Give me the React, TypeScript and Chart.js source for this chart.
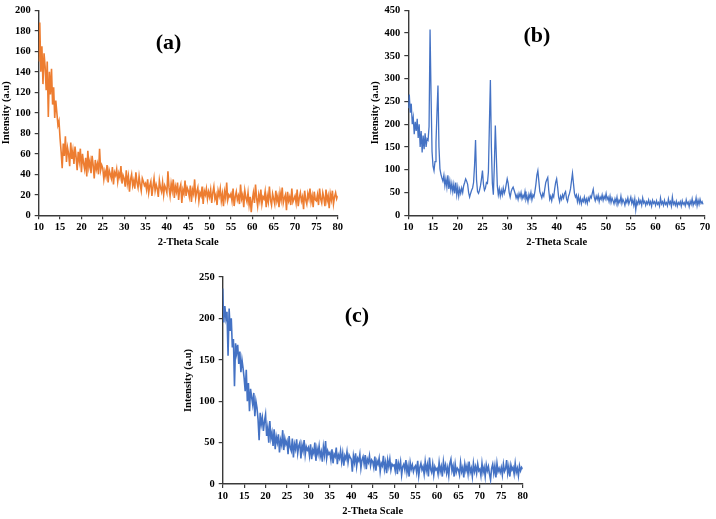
import React, { useEffect, useRef } from "react";
import { Chart, registerables } from "chart.js";

Chart.register(...registerables);

// ---------- data ----------
// (a) 2-theta grid: 10 .. 80, step 0.25
const thetaStartA = 10;
const thetaStepA = 0.25;
const intensityA = [
  150, 188, 140, 165, 128, 158, 145, 122, 150, 96, 140, 118, 143, 108, 125, 95, 112, 100, 88, 92,
  75, 62, 46, 70, 58, 77, 52, 66, 60, 48, 71, 55, 63, 50, 67, 57, 44, 62, 53, 65,
  42, 60, 51, 45, 56, 38, 63, 47, 53, 41, 58, 49, 36, 54, 45, 50, 40, 65, 44, 49,
  46, 35, 43, 38, 49, 32, 44, 40, 36, 47, 30, 42, 39, 45, 33, 41, 37, 48, 31, 39,
  36, 28, 44, 31, 38, 23, 35, 40, 29, 34, 26, 42, 32, 27, 38, 30, 24, 36, 33, 29,
  31, 25, 35, 22, 29, 33, 19, 28, 36, 24, 30, 26, 18, 34, 27, 23, 32, 20, 29, 26,
  22, 43, 27, 19, 31, 24, 35, 17, 28, 23, 32, 15, 26, 30, 12, 25, 21, 34, 19, 27,
  24, 18, 29, 13, 25, 21, 35, 17, 23, 27, 14, 22, 19, 28, 11, 24, 20, 26, 16, 23,
  18, 25, 12, 22, 28, 16, 20, 10, 24, 19, 26, 14, 21, 9, 23, 17, 32, 15, 20, 18,
  21, 14, 26, 9, 18, 23, 15, 19, 11, 30, 16, 20, 8, 24, 17, 13, 22, 10, 18, 3,
  15, 22, 12, 30, 17, 9, 20, 14, 25, 11, 18, 16, 23, 8, 19, 13, 28, 15, 10, 21,
  16, 11, 24, 14, 19, 8, 22, 15, 27, 12, 17, 20, 5, 23, 14, 18, 10, 26, 13, 16,
  19, 12, 25, 9, 17, 22, 14, 18, 6, 24, 15, 11, 21, 16, 26, 13, 19, 8, 23, 15,
  14, 20, 10, 26, 16, 12, 22, 17, 9, 25, 14, 19, 7, 21, 15, 24, 11, 18, 22, 16,
  19,
];

// (b) 2-theta grid: 10 .. 69.6, step 0.2
const thetaStartB = 10;
const thetaStepB = 0.2;
const intensityB = [
  235, 265, 225, 245, 200, 215, 178, 205, 185, 212, 170, 200, 150, 185, 138, 175, 145, 180, 150, 168, 165, 195, 408, 265, 140,
  108, 98, 118, 160, 225, 285, 150, 102, 90, 82, 75, 88, 65, 80, 62, 88, 58, 75, 55, 70, 52, 68, 48, 72, 45,
  62, 42, 58, 48, 60, 50, 65, 72, 80, 75, 68, 50, 40, 48, 55, 60, 72, 110, 165, 78, 52, 48, 55, 65, 80,
  98, 68, 55, 60, 72, 70, 95, 200, 297, 150, 70, 45, 110, 197, 130, 65, 45, 58, 42, 55, 45, 60, 48, 55, 68,
  80, 70, 50, 40, 52, 58, 62, 55, 48, 38, 45, 35, 48, 40, 50, 36, 44, 38, 52, 35, 42, 30, 46, 38, 50,
  34, 45, 40, 52, 68, 88, 98, 75, 52, 45, 38, 48, 42, 58, 72, 78, 83, 55, 35, 42, 32, 45, 40, 58, 72,
  80, 62, 40, 30, 42, 35, 45, 38, 48, 52, 36, 30, 42, 48, 58, 75, 92, 70, 48, 40, 45, 30, 42, 28, 38,
  25, 35, 30, 40, 28, 36, 26, 38, 32, 42, 38, 48, 57, 40, 32, 42, 35, 44, 30, 40, 35, 45, 33, 42, 36,
  48, 35, 40, 30, 42, 28, 38, 32, 25, 36, 28, 40, 24, 33, 28, 42, 26, 35, 30, 22, 34, 28, 38, 25, 32,
  40, 26, 34, 22, 36, 12, 30, 24, 35, 26, 32, 22, 38, 27, 31, 22, 30, 25, 34, 24, 30, 20, 33, 26, 30,
  22, 32, 24, 28, 20, 38, 25, 30, 22, 33, 24, 28, 21, 36, 25, 30, 20, 40, 24, 29, 22, 31, 20, 28, 24,
  30, 20, 32, 24, 28, 21, 34, 25, 29, 19, 31, 24, 36, 22, 30, 25, 38, 21, 33, 24, 35, 26, 30, 24,
];

// (c) 2-theta grid: 10 .. 80, step 0.25
const thetaStartC = 10;
const thetaStepC = 0.25;
const intensityC = [
  236, 195, 215, 200, 208, 155, 212, 185, 200, 165, 175, 118, 170, 158, 168, 145, 160, 135, 150, 140,
  128, 112, 138, 100, 122, 88, 115, 105, 96, 110, 82, 100, 92, 78, 53, 86, 72, 80, 64, 76,
  84, 58, 68, 50, 76, 55, 62, 46, 66, 42, 57, 50, 60, 38, 53, 47, 65, 41, 55, 48,
  52, 36, 58, 44, 40, 55, 32, 48, 42, 54, 37, 46, 50, 31, 47, 40, 53, 35, 45, 41,
  44, 34, 48, 30, 41, 37, 50, 28, 43, 36, 46, 33, 39, 27, 45, 35, 52, 31, 40, 36,
  38, 29, 42, 25, 36, 33, 44, 24, 35, 31, 40, 27, 37, 22, 34, 30, 39, 26, 35, 32,
  30, 15, 34, 26, 37, 21, 31, 28, 36, 19, 29, 33, 24, 35, 18, 30, 26, 34, 22, 29,
  27, 20, 33, 16, 28, 24, 31, 15, 25, 22, 34, 18, 26, 13, 29, 21, 30, 17, 24, 22,
  23, 16, 30, 12, 25, 19, 27, 11, 21, 24, 17, 29, 14, 22, 9, 26, 18, 23, 15, 20,
  22, 14, 28, 10, 20, 25, 17, 21, 12, 27, 16, 23, 9, 32, 18, 14, 24, 11, 21, 17,
  19, 12, 26, 15, 21, 9, 27, 17, 23, 13, 20, 10, 25, 30, 16, 22, 9, 24, 14, 19,
  17, 11, 26, 15, 20, 8, 24, 16, 22, 12, 27, 14, 19, 9, 25, 15, 21, 13, 24, 16,
  18, 10, 25, 14, 20, 9, 23, 16, 21, 12, 5, 19, 24, 13, 22, 8, 25, 15, 19, 14,
  20, 11, 24, 15, 18, 29, 13, 21, 9, 23, 17, 20, 12, 25, 14, 19, 10, 22, 16, 20,
  18,
];

const xTitle = "2-Theta Scale";
const yTitle = "Intensity (a.u)";

// ---------- chart helper ----------
const FONT = '"Liberation Serif", "Times New Roman", serif';

type PanelProps = {
  values: number[];
  start: number;
  step: number;
  color: string;
  lineWidth: number;
  xMax: number;
  yMax: number;
  yStep: number;
  label: string;
  labelAt: [number, number];
  box: { left: number; top: number; width: number; height: number };
  plot: { left: number; top: number; right: number; bottom: number };
  xTitleCenterY: number;
};

function Panel(p: PanelProps) {
  const ref = useRef<HTMLCanvasElement | null>(null);
  useEffect(() => {
    if (!ref.current) return;
    const data = p.values.map((v, i) => ({ x: p.start + i * p.step, y: v }));
    const yAxisW = p.plot.left - p.box.left;
    const xAxisH = p.box.top + p.box.height - p.plot.bottom;
    const padTop = p.plot.top - p.box.top;
    const padRight = p.box.left + p.box.width - p.plot.right;
    const titleBottomPad = p.box.top + p.box.height - p.xTitleCenterY - 6;

    const labelPlugin = {
      id: "panelLabel",
      afterDraw(chart: any) {
        const ctx = chart.ctx;
        const xs = chart.scales.x;
        const ys = chart.scales.y;
        ctx.save();
        ctx.font = `bold 22px ${FONT}`;
        ctx.fillStyle = "#000";
        ctx.textAlign = "center";
        ctx.textBaseline = "middle";
        ctx.fillText(p.label, xs.getPixelForValue(p.labelAt[0]), ys.getPixelForValue(p.labelAt[1]));
        ctx.restore();
      },
    };

    const axisColor = "#3a3a3a";
    const chart = new Chart(ref.current, {
      type: "line",
      data: {
        datasets: [
          {
            data,
            borderColor: p.color,
            borderWidth: p.lineWidth,
            pointRadius: 0,
            tension: 0,
            fill: false,
          },
        ],
      },
      options: {
        animation: false,
        responsive: true,
        maintainAspectRatio: false,
        layout: { padding: { top: padTop, right: padRight, left: 0, bottom: 0 } },
        plugins: { legend: { display: false }, tooltip: { enabled: false } },
        scales: {
          x: {
            type: "linear",
            min: 10,
            max: p.xMax,
            afterFit: (s: any) => {
              s.height = xAxisH;
            },
            ticks: {
              stepSize: 5,
              color: "#000",
              padding: 2,
              maxRotation: 0,
              font: { family: FONT, size: 10.5, weight: "bold" },
            },
            grid: { display: true, drawOnChartArea: false, drawTicks: true, tickLength: 4, color: axisColor, lineWidth: 1.2 },
            border: { display: true, color: axisColor, width: 1.4 },
            title: {
              display: true,
              text: xTitle,
              color: "#000",
              padding: { top: 0, bottom: titleBottomPad },
              font: { family: FONT, size: 10.5, weight: "bold" },
            },
          },
          y: {
            min: 0,
            max: p.yMax,
            afterFit: (s: any) => {
              s.width = yAxisW;
            },
            ticks: {
              stepSize: p.yStep,
              color: "#000",
              padding: 4,
              font: { family: FONT, size: 10.5, weight: "bold" },
            },
            grid: { display: true, drawOnChartArea: false, drawTicks: true, tickLength: 4, color: axisColor, lineWidth: 1.2 },
            border: { display: true, color: axisColor, width: 1.4 },
            title: {
              display: true,
              text: yTitle,
              color: "#000",
              padding: { top: 0, bottom: 0 },
              font: { family: FONT, size: 10.5, weight: "bold" },
            },
          },
        },
      },
      plugins: [labelPlugin],
    } as any);
    return () => chart.destroy();
  }, []);

  return (
    <div
      style={{
        position: "absolute",
        left: p.box.left,
        top: p.box.top,
        width: p.box.width,
        height: p.box.height,
      }}
    >
      <canvas ref={ref} />
    </div>
  );
}

export default function App() {
  return (
    <div>
      <Panel
        values={intensityA}
        start={thetaStartA}
        step={thetaStepA}
        color="#ED7D31"
        lineWidth={1.6}
        xMax={80}
        yMax={200}
        yStep={20}
        label="(a)"
        labelAt={[40.4, 168]}
        box={{ left: 0, top: 0, width: 345, height: 252 }}
        plot={{ left: 38.7, top: 7.3, right: 338, bottom: 215.3 }}
        xTitleCenterY={243}
      />
      <Panel
        values={intensityB}
        start={thetaStartB}
        step={thetaStepB}
        color="#4472C4"
        lineWidth={1.3}
        xMax={70}
        yMax={450}
        yStep={50}
        label="(b)"
        labelAt={[36, 392]}
        box={{ left: 369, top: 0, width: 347, height: 252 }}
        plot={{ left: 408.3, top: 8, right: 705, bottom: 215.3 }}
        xTitleCenterY={243}
      />
      <Panel
        values={intensityC}
        start={thetaStartC}
        step={thetaStepC}
        color="#4472C4"
        lineWidth={1.6}
        xMax={80}
        yMax={250}
        yStep={50}
        label="(c)"
        labelAt={[41.3, 203]}
        box={{ left: 182.3, top: 262, width: 350, height: 257 }}
        plot={{ left: 223, top: 277, right: 523, bottom: 484 }}
        xTitleCenterY={512}
      />
    </div>
  );
}
